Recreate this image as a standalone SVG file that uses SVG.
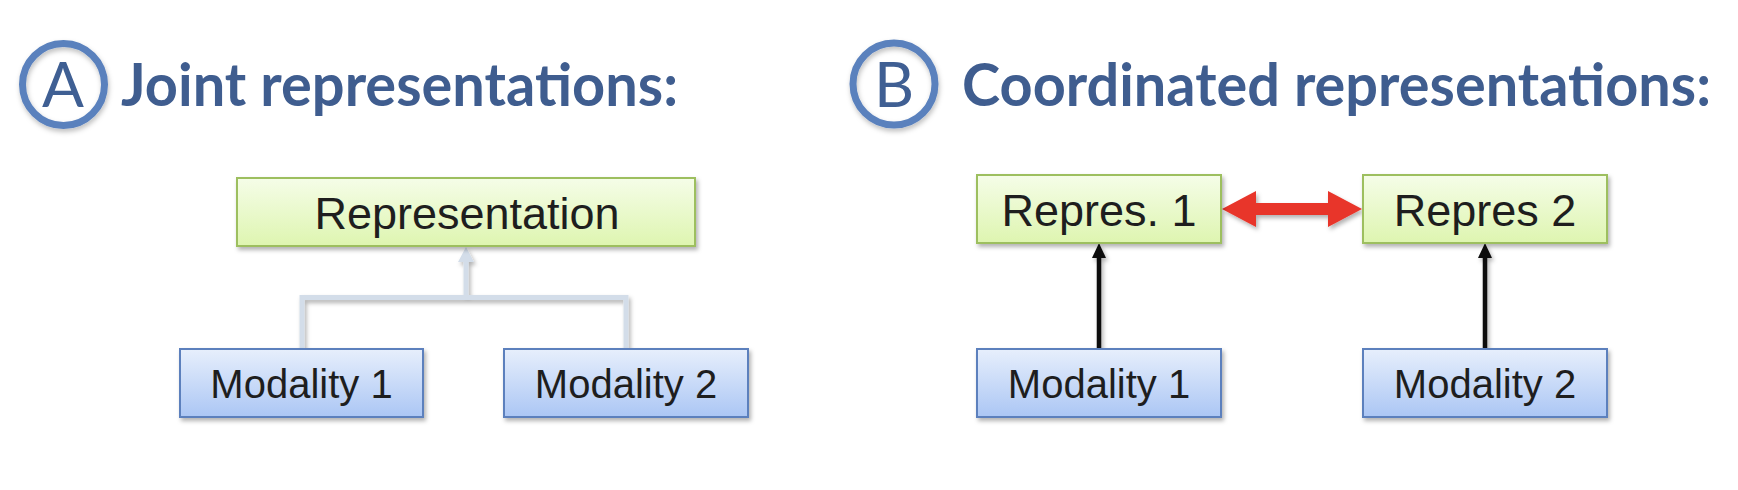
<svg xmlns="http://www.w3.org/2000/svg" width="1738" height="490" viewBox="0 0 1738 490">
<defs>
<linearGradient id="gGreen" x1="0" y1="0" x2="0" y2="1"><stop offset="0" stop-color="#f5fde8"/><stop offset="1" stop-color="#def5b0"/></linearGradient>
<linearGradient id="gBlue" x1="0" y1="0" x2="0" y2="1"><stop offset="0" stop-color="#e7effc"/><stop offset="1" stop-color="#abc6f4"/></linearGradient>
<filter id="sh" x="-10%" y="-20%" width="130%" height="150%"><feDropShadow dx="2" dy="3" stdDeviation="2" flood-color="#000" flood-opacity="0.3"/></filter>
<filter id="shc" x="-20%" y="-20%" width="150%" height="150%"><feDropShadow dx="1" dy="3" stdDeviation="2.5" flood-color="#000" flood-opacity="0.25"/></filter>
</defs>
<style>
.title{font-family:Lato,"Open Sans","Liberation Sans",sans-serif;font-weight:bold;fill:#3f5d8f;font-size:59px}
.badge{fill:none;stroke:#5a81bd;stroke-width:7}
.badgeTxt{font-family:Lato,"Open Sans","Liberation Sans",sans-serif;fill:#3f5f93;font-size:62px;text-anchor:middle}
.rep{fill:url(#gGreen);stroke:#9dbf5f;stroke-width:2}
.mod{fill:url(#gBlue);stroke:#5b80bd;stroke-width:2}
.lbl{font-family:"Liberation Sans",Arial,Helvetica,sans-serif;fill:#1e1e1e;text-anchor:middle}
.big{font-size:45px}
.small{font-size:40px}
.joint{fill:none;stroke:#d3dde9;stroke-width:5}
</style>
<rect width="1738" height="490" fill="#ffffff"/>
<g id="titleA">
<circle class="badge" cx="63.5" cy="84.5" r="41" filter="url(#shc)"/>
<text class="badgeTxt" x="63" y="107">A</text>
<text class="title" x="121" y="106" textLength="557" lengthAdjust="spacingAndGlyphs">Joint representations:</text>
</g>
<g id="titleB">
<circle class="badge" cx="894" cy="84" r="41" filter="url(#shc)"/>
<text class="badgeTxt" x="894" y="107">B</text>
<text class="title" x="962" y="106" textLength="749" lengthAdjust="spacingAndGlyphs">Coordinated representations:</text>
</g>
<g id="connectors">
<g filter="url(#sh)">
<path class="joint" d="M302,349 V297.5 H626 V349 M466,297.5 V260"/>
<polygon points="466,247 474,262 458,262" fill="#d3dde9"/>
</g>
<g filter="url(#sh)">
<line x1="1099" y1="349" x2="1099" y2="256" stroke="#111" stroke-width="4.5"/>
<polygon points="1099,243 1106,258 1092,258" fill="#111"/>
<line x1="1485" y1="349" x2="1485" y2="256" stroke="#111" stroke-width="4.5"/>
<polygon points="1485,243 1492,258 1478,258" fill="#111"/>
<polygon points="1222,209 1256,191 1256,203 1328,203 1328,191 1362,209 1328,227 1328,215 1256,215 1256,227" fill="#e8352a"/>
</g>
</g>
<g id="nodeRepresentation">
<rect class="rep" x="237" y="178" width="458" height="68" filter="url(#sh)"/>
<text class="lbl big" x="467" y="229">Representation</text>
</g>
<g id="nodeModA1">
<rect class="mod" x="180" y="349" width="243" height="68" filter="url(#sh)"/>
<text class="lbl small" x="301.5" y="398">Modality 1</text>
</g>
<g id="nodeModA2">
<rect class="mod" x="504" y="349" width="244" height="68" filter="url(#sh)"/>
<text class="lbl small" x="626" y="398">Modality 2</text>
</g>
<g id="nodeRep1">
<rect class="rep" x="977" y="175" width="244" height="68" filter="url(#sh)"/>
<text class="lbl big" x="1099" y="226">Repres. 1</text>
</g>
<g id="nodeRep2">
<rect class="rep" x="1363" y="175" width="244" height="68" filter="url(#sh)"/>
<text class="lbl big" x="1485" y="226">Repres 2</text>
</g>
<g id="nodeModB1">
<rect class="mod" x="977" y="349" width="244" height="68" filter="url(#sh)"/>
<text class="lbl small" x="1099" y="398">Modality 1</text>
</g>
<g id="nodeModB2">
<rect class="mod" x="1363" y="349" width="244" height="68" filter="url(#sh)"/>
<text class="lbl small" x="1485" y="398">Modality 2</text>
</g>
</svg>
